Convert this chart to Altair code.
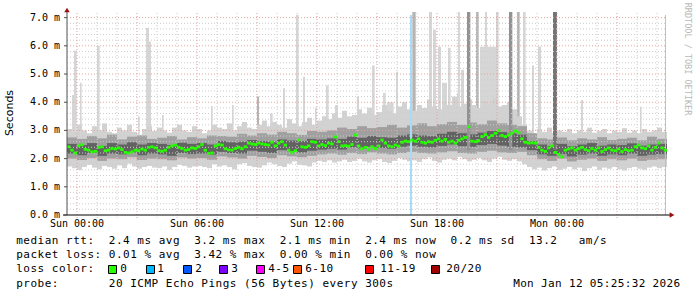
import altair as alt
import pandas as pd

# ---------------- data ----------------
# median RTT (ms) every 10 minutes starting Sat 23:30
MEDIAN = [
    2.42, 2.30, 2.20, 2.45, 2.49, 2.33, 2.30, 2.24, 2.26, 2.40,
    2.42, 2.28, 2.30, 2.36, 2.34, 2.38, 2.32, 2.22, 2.20, 2.24,
    2.30, 2.28, 2.34, 2.30, 2.40, 2.42, 2.38, 2.28, 2.26, 2.30,
    2.40, 2.45, 2.48, 2.40, 2.36, 2.30, 2.32, 2.38, 2.36, 2.42,
    2.50, 2.30, 2.18, 2.20, 2.45, 2.50, 2.48, 2.35, 2.31, 2.30,
    2.36, 2.40, 2.35, 2.42, 2.55, 2.52, 2.50, 2.55, 2.52, 2.50,
    2.48, 2.58, 2.45, 2.55, 2.60, 2.48, 2.30, 2.22, 2.28, 2.66,
    2.42, 2.40, 2.45, 2.60, 2.58, 2.45, 2.50, 2.46, 2.55, 2.52,
    2.77, 2.60, 2.45, 2.46, 2.44, 2.50, 2.84, 2.45, 2.35, 2.40,
    2.32, 2.42, 2.36, 2.45, 2.66, 2.55, 2.45, 2.42, 2.48, 2.44,
    2.58, 2.62, 2.60, 2.66, 2.62, 2.70, 2.58, 2.55, 2.60, 2.58,
    2.65, 2.70, 2.62, 2.68, 2.58, 2.62, 2.55, 2.65, 2.70, 2.75,
    3.13, 2.62, 2.60, 2.64, 2.78, 2.85, 2.75, 2.82, 2.90, 3.00,
    2.82, 2.78, 2.84, 2.90, 2.98, 2.92, 2.70, 2.58, 2.55, 2.56,
    2.55, 2.40, 2.30, 2.26, 2.38, 2.45, 2.22, 2.15, 2.06, 2.30,
    2.34, 2.38, 2.30, 2.35, 2.40, 2.32, 2.28, 2.36, 2.30, 2.38,
    2.25, 2.32, 2.38, 2.30, 2.28, 2.34, 2.25, 2.32, 2.28, 2.30,
    2.42, 2.48, 2.38, 2.35, 2.45, 2.30, 2.40, 2.55, 2.38, 2.30,
]

# outer smoke (ms) every 15 minutes starting Sat 23:30
LO1 = [
    1.72, 1.66, 1.60, 1.70, 1.78, 1.68, 1.62, 1.74, 1.70, 1.64,
    1.76, 1.66, 1.82, 1.72, 1.64, 1.70, 1.74, 1.68, 1.66, 1.72,
    1.60, 1.70, 1.78, 1.74, 1.68, 1.72, 1.74, 1.70, 1.66, 1.80,
    1.72, 1.76, 1.70, 1.62, 1.80, 1.84, 1.74, 1.70, 1.68, 1.76,
    1.86, 1.80, 1.74, 1.70, 1.82, 1.90, 1.78, 1.76, 1.72, 1.86,
    1.92, 1.88, 1.94, 1.86, 1.90, 1.96, 1.88, 1.92, 2.00, 1.90,
    1.86, 1.94, 1.98, 1.88, 1.84, 1.92, 2.02, 1.96, 1.90, 1.94,
    1.88, 1.98, 2.04, 1.92, 1.86, 1.96, 2.00, 1.94, 2.06, 1.98,
    1.90, 1.96, 2.02, 1.94, 1.88, 2.00, 2.06, 1.96, 1.92, 1.98,
    1.90, 1.80, 1.70, 1.62, 1.68, 1.58, 1.66, 1.72, 1.60, 1.64,
    1.70, 1.62, 1.68, 1.56, 1.66, 1.72, 1.60, 1.68, 1.64, 1.70,
    1.62, 1.58, 1.66, 1.70, 1.64, 1.60, 1.68, 1.72, 1.66, 1.70,
]
HI1 = [
    3.05, 2.95, 3.20, 3.00, 2.90, 3.15, 3.00, 3.25, 2.95, 2.90,
    3.10, 3.00, 3.20, 2.95, 2.85, 3.05, 3.15, 2.98, 3.10, 3.00,
    2.92, 3.10, 3.20, 3.00, 2.95, 3.15, 3.05, 2.90, 3.00, 3.20,
    3.10, 3.05, 3.25, 3.00, 3.15, 3.30, 3.10, 3.05, 3.20, 3.35,
    3.15, 3.30, 3.20, 3.10, 3.40, 3.25, 3.15, 3.30, 3.45, 3.20,
    3.35, 3.50, 3.40, 3.60, 3.45, 3.70, 3.50, 3.55, 3.75, 3.60,
    3.80, 3.55, 3.65, 3.90, 3.70, 3.60, 3.85, 4.00, 3.75, 3.70,
    3.90, 3.80, 4.10, 3.85, 3.75, 4.00, 3.90, 4.20, 3.85, 3.95,
    4.10, 3.90, 3.80, 4.05, 3.95, 4.15, 3.85, 3.90, 4.00, 3.75,
    3.50, 3.20, 3.00, 2.90, 3.05, 2.95, 3.10, 2.90, 3.00, 2.95,
    3.05, 2.90, 3.00, 2.95, 3.10, 2.92, 2.98, 3.05, 2.90, 3.00,
    2.95, 3.08, 2.92, 3.00, 2.90, 3.05, 2.95, 3.00, 3.10, 2.95,
]

# inner smoke bands (ms) every 30 minutes starting Sat 23:30
LO2 = [2.00, 1.95, 2.02, 1.92, 2.00, 1.98, 2.05, 1.95, 2.00, 1.98, 1.94, 2.04, 2.00,
       2.02, 1.96, 2.08, 2.04, 2.00, 2.10, 2.06, 2.02, 2.12, 2.08, 2.05, 2.10, 2.15,
       2.18, 2.14, 2.20, 2.16, 2.22, 2.18, 2.15, 2.20, 2.24, 2.20, 2.18, 2.22, 2.26,
       2.20, 2.18, 2.24, 2.28, 2.22, 2.20, 2.24, 2.12,
       1.98, 1.92, 2.00, 1.90, 1.96, 2.00, 1.92, 1.98, 1.94, 2.00, 1.92, 1.96, 1.98]
HI2 = [2.75, 2.70, 2.80, 2.72, 2.85, 2.68, 2.78, 2.82, 2.70, 2.74, 2.80, 2.68, 2.76,
       2.72, 2.82, 2.80, 2.78, 2.88, 2.82, 2.90, 2.85, 2.95, 2.90, 2.84, 2.98, 2.95,
       3.00, 3.10, 3.05, 3.15, 3.08, 3.12, 3.20, 3.10, 3.18, 3.25, 3.15, 3.22, 3.30,
       3.20, 3.28, 3.22, 3.35, 3.25, 3.20, 3.15, 2.90,
       2.72, 2.68, 2.75, 2.65, 2.72, 2.68, 2.76, 2.66, 2.70, 2.74, 2.65, 2.78, 2.70]
LO3 = [2.18, 2.12, 2.20, 2.10, 2.18, 2.15, 2.22, 2.12, 2.18, 2.15, 2.10, 2.20, 2.16,
       2.18, 2.14, 2.24, 2.20, 2.18, 2.28, 2.24, 2.20, 2.30, 2.26, 2.22, 2.28, 2.32,
       2.35, 2.32, 2.40, 2.36, 2.42, 2.38, 2.35, 2.42, 2.46, 2.42, 2.40, 2.45, 2.50,
       2.44, 2.42, 2.48, 2.52, 2.46, 2.42, 2.40, 2.30,
       2.15, 2.10, 2.16, 2.08, 2.14, 2.18, 2.10, 2.15, 2.12, 2.18, 2.10, 2.14, 2.16]
HI3 = [2.52, 2.48, 2.55, 2.45, 2.55, 2.50, 2.58, 2.50, 2.55, 2.52, 2.48, 2.56, 2.52,
       2.55, 2.50, 2.62, 2.58, 2.60, 2.66, 2.62, 2.60, 2.68, 2.64, 2.62, 2.70, 2.68,
       2.72, 2.70, 2.78, 2.74, 2.80, 2.76, 2.74, 2.82, 2.86, 2.82, 2.80, 2.88, 2.95,
       2.90, 2.86, 2.92, 2.98, 2.94, 2.90, 2.85, 2.62,
       2.50, 2.45, 2.52, 2.44, 2.50, 2.55, 2.46, 2.50, 2.48, 2.54, 2.46, 2.50, 2.52]

# single-ping outliers: start minute, duration (min), top (ms), shade
SPIKE_T = [15, 21, 39, 90, 213, 237, 246, 285, 432, 495, 570, 609, 648, 687, 708,
           744, 777, 804, 870, 900, 915, 948, 960, 987, 1005, 1036, 1086, 1098, 1113,
           1125, 1143, 1170, 1173, 1182, 1200, 1227, 1239, 1254, 1287, 1326, 1350,
           1368, 1395, 1413, 1458, 1542, 1719]
SPIKE_W = [6, 8, 5, 8, 5, 9, 6, 5, 5, 5, 6, 8, 6, 8, 6,
           5, 8, 9, 6, 12, 8, 8, 20, 6, 6, 10, 9, 9, 9,
           15, 8, 6, 6, 9, 10, 8, 54, 6, 8, 10, 8,
           8, 6, 9, 12, 6, 5]
SPIKE_TOP = [4.26, 5.83, 4.69, 6.00, 3.50, 6.64, 6.15, 3.55, 3.87, 3.90, 4.20, 3.60, 4.50, 7.10, 4.90,
             3.80, 4.60, 3.90, 4.20, 3.80, 5.30, 4.33, 4.00, 5.08, 3.80, 7.20, 7.20, 6.57, 5.97,
             4.69, 5.93, 4.33, 7.20, 5.15, 7.20, 7.20, 5.97, 7.20, 7.20, 7.20, 7.20,
             7.20, 5.30, 5.97, 7.20, 4.08, 3.84]
SPIKE_SHADE = ["l", "l", "l", "l", "l", "l", "l", "l", "l", "l", "m", "l", "l", "l", "l",
               "l", "l", "l", "l", "l", "l", "l", "l", "l", "l", "m", "l", "l", "l",
               "l", "l", "l", "l", "l", "d", "m", "l", "l", "l", "d", "m",
               "l", "l", "l", "v", "l", "l"]

Y_TICKS = [0, 1, 2, 3, 4, 5, 6, 7]
Y_LABELS = ["0.0 m", "1.0 m", "2.0 m", "3.0 m", "4.0 m", "5.0 m", "6.0 m", "7.0 m"]
X_TICKS = [30, 390, 750, 1110, 1470]
X_LABELS = ["Sun 00:00", "Sun 06:00", "Sun 12:00", "Sun 18:00", "Mon 00:00"]

LOSS_LABELS = ["0", "1", "2", "3", "4-5", "6-10", "11-19", "20/20"]
LOSS_COLORS = ["#26ff00", "#00b8ff", "#0059ff", "#7e00ff", "#ff00ff", "#ff5500", "#ff0000", "#a10000"]

LEGEND_1 = "median rtt:  2.4 ms avg  3.2 ms max  2.1 ms min  2.4 ms now  0.2 ms sd  13.2   am/s"
LEGEND_2 = "packet loss: 0.01 % avg  3.42 % max  0.00 % min  0.00 % now"
LEGEND_3 = "loss color:"
LEGEND_4 = "probe:       20 ICMP Echo Pings (56 Bytes) every 300s"
STAMP = "Mon Jan 12 05:25:32 2026"
Y_TITLE = "Seconds"
WATERMARK = "RRDTOOL / TOBI OETIKER"
LOSS_MARK_T = 1029   # minute of the light-blue loss marker

# ---------------- layout ----------------
L, T = 67, 12            # plot origin in page pixels
W, H = 600, 203
MONO = "DejaVu Sans Mono"
xs = alt.Scale(domain=[0, 1800], nice=False, zero=False)
ys = alt.Scale(domain=[0, 7.2], nice=False, zero=True)

layers = []

minor_h = [v / 10 for v in range(2, 72, 2) if v % 10 != 0]
major_h = [1, 2, 3, 4, 5, 6, 7]
minor_v = [t for t in range(30, 1800, 60) if (t - 30) % 180 != 0]
major_v = [t for t in range(30, 1800, 180)]

def hgrid(vals, color):
    return alt.Chart(pd.DataFrame({"v": vals})).mark_rule(
        color=color, strokeDash=[1, 2], strokeWidth=1).encode(
        y=alt.Y("v:Q", scale=ys, axis=None), x=alt.value(0), x2=alt.value(W))

def vgrid(vals, color):
    return alt.Chart(pd.DataFrame({"t": vals})).mark_rule(
        color=color, strokeDash=[1, 2], strokeWidth=1).encode(
        x=alt.X("t:Q", scale=xs, axis=None), y=alt.value(1), y2=alt.value(H + 3))

sp = pd.DataFrame({"t0": SPIKE_T, "w": SPIKE_W, "top": SPIKE_TOP, "s": SPIKE_SHADE})
sp["t1"] = sp["t0"] + sp["w"]
sp["base"] = 2.3
shade_col = {"l": "#d6d6d6", "m": "#b4b4b4", "d": "#929292", "v": "#747474"}

def spikes(kind):
    d = sp[sp["s"] == kind]
    return alt.Chart(d).mark_rect(color=shade_col[kind]).encode(
        x=alt.X("t0:Q", scale=xs, axis=None), x2="t1:Q",
        y=alt.Y("base:Q", scale=ys, axis=None), y2="top:Q")

layers += [spikes("l"), spikes("m")]

# outer smoke (15-min)
o = pd.DataFrame({"t0": [15 * i for i in range(len(LO1))], "lo": LO1, "hi": HI1})
o["t1"] = o["t0"] + 15
layers.append(alt.Chart(o).mark_rect(color="#d2d2d2").encode(
    x=alt.X("t0:Q", scale=xs, axis=None), x2="t1:Q",
    y=alt.Y("lo:Q", scale=ys, axis=None), y2="hi:Q"))

# inner smoke (30-min)
n = len(LO2)
sm = pd.DataFrame({"t0": [30 * i for i in range(n)], "t1": [30 * i + 30 for i in range(n)],
                   "lo2": LO2, "hi2": HI2, "lo3": LO3, "hi3": HI3})
for lo, hi, col in [("lo2", "hi2", "#a0a0a0"), ("lo3", "hi3", "#626262")]:
    layers.append(alt.Chart(sm).mark_rect(color=col).encode(
        x=alt.X("t0:Q", scale=xs, axis=None), x2="t1:Q",
        y=alt.Y(f"{lo}:Q", scale=ys, axis=None), y2=f"{hi}:Q"))

layers += [spikes("d"), spikes("v")]

layers += [hgrid(minor_h, "#cdcdcd"), vgrid(minor_v, "#cdcdcd"),
           hgrid(major_h, "#e6a0a0"), vgrid(major_v, "#e6a0a0")]

layers.append(alt.Chart(pd.DataFrame({"t0": [LOSS_MARK_T], "t1": [LOSS_MARK_T + 6]})).mark_rect(
    color="#a6dcf7").encode(x=alt.X("t0:Q", scale=xs, axis=None), x2="t1:Q",
                            y=alt.value(3), y2=alt.value(H)))
layers.append(alt.Chart(pd.DataFrame({"a": [0]})).mark_rule(color="#c4c4a0").encode(
    x=alt.value(598.5), y=alt.value(3), y2=alt.value(H)))

md = pd.DataFrame({"t0": [10 * i for i in range(len(MEDIAN))], "m": MEDIAN})
md["t1"] = md["t0"] + 10
layers.append(alt.Chart(md).transform_calculate(
    a="datum.m - 0.05", b="datum.m + 0.05").mark_rect(color="#26ff00").encode(
    x=alt.X("t0:Q", scale=xs, axis=None), x2="t1:Q",
    y=alt.Y("a:Q", scale=ys, axis=None), y2="b:Q"))

# axes
layers.append(alt.Chart(pd.DataFrame({"a": [0]})).mark_rule(color="#505050").encode(
    x=alt.value(0), y=alt.value(-1), y2=alt.value(H)))
layers.append(alt.Chart(pd.DataFrame({"a": [0]})).mark_rule(color="#000000").encode(
    y=alt.value(H), x=alt.value(-4), x2=alt.value(603)))
layers.append(alt.Chart(pd.DataFrame({"a": [0]})).mark_point(
    shape="triangle-up", filled=True, color="#9a1010", size=30, opacity=1).encode(
    x=alt.value(0), y=alt.value(-2)))
layers.append(alt.Chart(pd.DataFrame({"a": [0]})).mark_point(
    shape="triangle-right", filled=True, color="#9a1010", size=30, opacity=1).encode(
    x=alt.value(605), y=alt.value(H)))
layers.append(alt.Chart(pd.DataFrame({"v": Y_TICKS})).mark_rule(color="#505050").encode(
    y=alt.Y("v:Q", scale=ys, axis=None), x=alt.value(-3), x2=alt.value(0)))

layers.append(alt.Chart(pd.DataFrame({"v": Y_TICKS, "lab": Y_LABELS})).mark_text(
    font=MONO, fontSize=10, align="right", baseline="middle", color="#000").encode(
    y=alt.Y("v:Q", scale=ys, axis=None), x=alt.value(-7), text="lab:N"))
layers.append(alt.Chart(pd.DataFrame({"t": X_TICKS, "lab": X_LABELS})).mark_text(
    font=MONO, fontSize=10, align="center", baseline="middle", color="#000").encode(
    x=alt.X("t:Q", scale=xs, axis=None), y=alt.value(H + 9), text="lab:N"))

layers.append(alt.Chart(pd.DataFrame({"a": [0]})).mark_text(
    text=Y_TITLE, font="DejaVu Sans", fontSize=11, angle=270, align="center",
    baseline="middle", color="#000").encode(x=alt.value(10 - L), y=alt.value(113 - T)))
layers.append(alt.Chart(pd.DataFrame({"a": [0]})).mark_text(
    text=WATERMARK, font=MONO, fontSize=8.5, angle=90, align="center",
    baseline="middle", color="#b8b8b8").encode(x=alt.value(688 - L), y=alt.value(59 - T)))

rows = []
def put(s, x0, y, adv=7.12):
    for i, ch in enumerate(s):
        if ch != " ":
            rows.append({"px": x0 + (i + 0.5) * adv - L, "py": y - T, "ch": ch})

put(LEGEND_1, 16, 241)
put(LEGEND_2, 16, 255)
put(LEGEND_3, 16, 269)
put(LEGEND_4, 16, 283.5)
put(STAMP, 513, 283.5, 6.97)
sw_x = [108, 146, 183, 219, 256, 293, 365, 431]
lab_x = [120, 157, 195, 231, 268, 305, 380, 446]
for lx, lab in zip(lab_x, LOSS_LABELS):
    put(lab, lx, 269)

layers.append(alt.Chart(pd.DataFrame(rows)).mark_text(
    font=MONO, fontSize=11, align="center", baseline="middle", color="#000").encode(
    x=alt.X("px:Q", scale=None, axis=None), y=alt.Y("py:Q", scale=None, axis=None), text="ch:N"))

for sx, col in zip(sw_x, LOSS_COLORS):
    layers.append(alt.Chart(pd.DataFrame({"a": [0]})).mark_rect(
        color=col, stroke="#000", strokeWidth=1).encode(
        x=alt.value(sx - L + 0.5), x2=alt.value(sx - L + 8.5),
        y=alt.value(265 - T + 0.5), y2=alt.value(273 - T + 0.5)))

chart = alt.layer(*layers).resolve_scale(x="independent", y="independent").properties(
    width=W, height=H,
    padding={"left": L, "top": T, "right": 697 - L - W, "bottom": 297 - T - H},
    autosize=alt.AutoSizeParams(type="none"),
    background="#ffffff",
).configure_view(stroke=None)

chart.save("out.html", embed_options={"renderer": "svg", "actions": False})
